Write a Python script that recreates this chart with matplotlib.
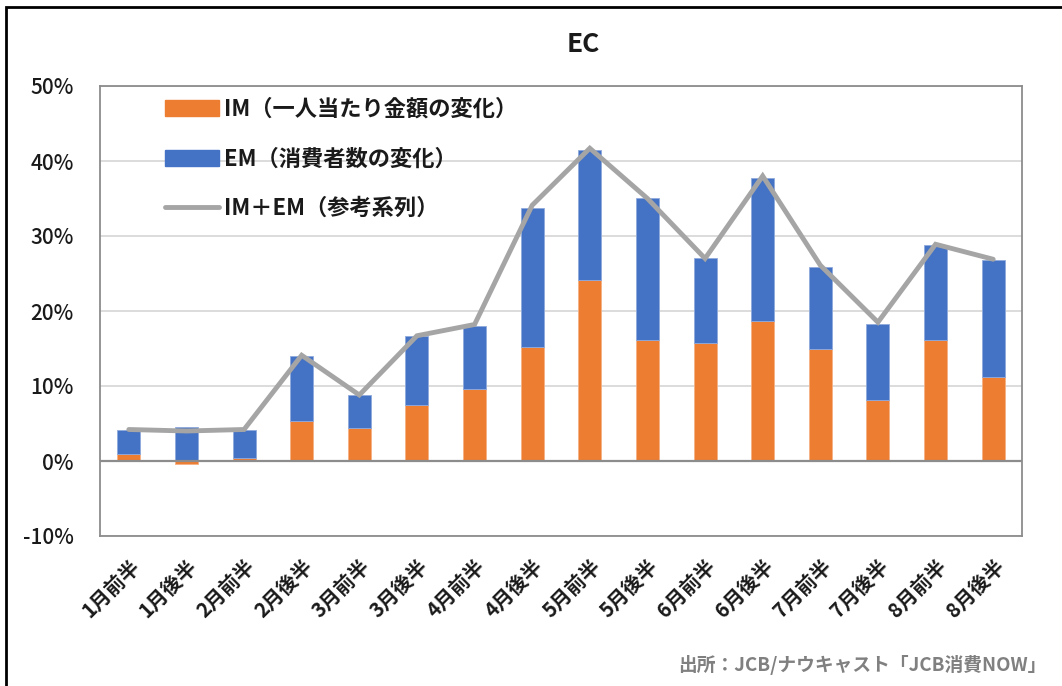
import matplotlib.pyplot as plt
import matplotlib.patches as mpatches
import matplotlib.lines as mlines
import numpy as np

plt.rcParams['font.family'] = ['Noto Sans CJK JP', 'DejaVu Sans']

# data (percent)
labels = ['1月前半', '1月後半', '2月前半', '2月後半', '3月前半', '3月後半', '4月前半', '4月後半',
          '5月前半', '5月後半', '6月前半', '6月後半', '7月前半', '7月後半', '8月前半', '8月後半']
im = [0.9, -0.45, 0.4, 5.3, 4.4, 7.5, 9.6, 15.2, 24.1, 16.2, 15.8, 18.7, 14.9, 8.1, 16.1, 11.2]
em = [3.3, 4.5, 3.7, 8.7, 4.4, 9.2, 8.4, 18.6, 17.4, 18.9, 11.3, 19.1, 11.0, 10.2, 12.7, 15.6]
total = [4.2, 4.0, 4.2, 14.1, 8.8, 16.7, 18.2, 34.1, 41.7, 35.0, 27.0, 38.0, 26.1, 18.5, 28.9, 26.9]

orange = '#ED7D31'
blue = '#4472C4'
gray = '#A5A5A5'

fig = plt.figure(figsize=(10.62, 6.86), dpi=100)
ax = fig.add_axes([100 / 1062, 150 / 686, 922 / 1062, 450 / 686])

x = np.arange(len(labels))
im_arr = np.array(im)
em_bottom = np.where(im_arr > 0, im_arr, 0)

ax.bar(x, im, width=0.4, color=orange, edgecolor='#F4B183', linewidth=0.6, zorder=3)
ax.bar(x, em, width=0.4, bottom=em_bottom, color=blue, edgecolor='#8FAADC', linewidth=0.6, zorder=3)
ax.plot(x, total, color=gray, linewidth=3.5, solid_capstyle='round', solid_joinstyle='miter', zorder=4)

ax.axhline(0, color='#8C8C8C', linewidth=1.6, zorder=5)

ax.set_xlim(-0.5, len(labels) - 0.5)
ax.set_ylim(-10, 50)
ax.set_yticks(np.arange(-10, 51, 10))
ax.set_yticklabels([f'{v}%' for v in range(-10, 51, 10)], fontsize=15, fontweight='medium',
                   color='#1a1a1a')
ax.set_xticks(x)
ax.set_xticklabels(labels, rotation=45, ha='right', va='top', rotation_mode='anchor',
                   fontsize=14.5, fontweight='bold', color='#1a1a1a')
ax.tick_params(axis='y', length=0, pad=19)
ax.tick_params(axis='x', length=0, pad=14)
ax.yaxis.grid(True, color='#D9D9D9', linewidth=1.3, zorder=0)
ax.set_axisbelow(True)
for s in ax.spines.values():
    s.set_color('#8C8C8C')
    s.set_linewidth(1.3)

# legend
h1 = mpatches.Patch(color=orange)
h2 = mpatches.Patch(color=blue)
h3 = mlines.Line2D([], [], color=gray, linewidth=3.5, solid_capstyle='round')
leg = ax.legend([h1, h2, h3], ['IM（一人当たり金額の変化）', 'EM（消費者数の変化）', 'IM＋EM（参考系列）'],
                loc='upper left', bbox_to_anchor=(0.049, 1.018), frameon=False,
                prop={'size': 16, 'weight': 'bold'}, handlelength=2.4, handleheight=0.75,
                labelspacing=1.2, handletextpad=0.25)
for t in leg.get_texts():
    t.set_color('#1a1a1a')

fig.text(583 / 1062, 1 - 44 / 686, 'EC', ha='center', va='center', fontsize=19, fontweight='bold',
         color='#1a1a1a')
fig.text(1047 / 1062, 1 - 665 / 686, '出所：JCB/ナウキャスト「JCB消費NOW」', ha='right', va='center',
         fontsize=13.5, fontweight='bold', color='#808080')

# outer border
fig.patches.append(mpatches.Rectangle((6 / 1062, -0.05), 1.2, 1.05 - 7 / 686,
                                      transform=fig.transFigure, fill=False,
                                      edgecolor='black', linewidth=2))

fig.savefig('out.png', dpi=100)
